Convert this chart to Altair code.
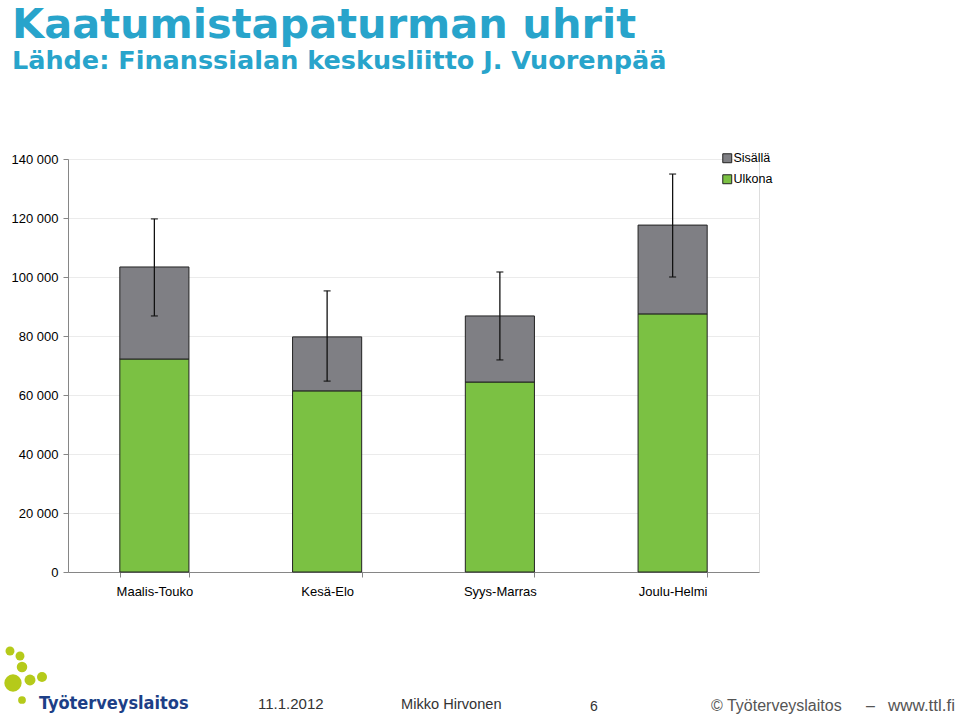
import altair as alt
import pandas as pd

categories = ["Maalis-Touko", "Kesä-Elo", "Syys-Marras", "Joulu-Helmi"]
ulkona = [72200, 61400, 64400, 87500]
sisalla = [31200, 18300, 22400, 30100]
err_low = [86800, 64700, 71900, 100000]
err_high = [119700, 95300, 101700, 134900]
series_names = ["Sisällä", "Ulkona"]
y_ticks = [0, 20000, 40000, 60000, 80000, 100000, 120000, 140000]

title_text = "Kaatumistapaturman uhrit"
subtitle_text = "Lähde: Finanssialan keskusliitto J. Vuorenpää"
footer_date = "11.1.2012"
footer_author = "Mikko Hirvonen"
footer_page = "6"
footer_copy1 = "©  Työterveyslaitos"
footer_dash = "–"
footer_www = "www.ttl.fi"
logo_text = "Työterveyslaitos"

rows = []
for c, u, s in zip(categories, ulkona, sisalla):
    rows.append({"cat": c, "series": "Ulkona", "value": u, "ord": 0})
    rows.append({"cat": c, "series": "Sisällä", "value": s, "ord": 1})
bars_df = pd.DataFrame(rows)
err_df = pd.DataFrame({"cat": categories, "low": err_low, "high": err_high})

FONT = "Liberation Sans"
GREEN = "#7BC143"
GREY = "#7F7F84"
TITLE_COL = "#28A4CB"

xenc = alt.X(
    "cat:N",
    sort=categories,
    scale=alt.Scale(paddingInner=0.6, paddingOuter=0.3),
    axis=alt.Axis(
        title=None, labelAngle=0, tickBand="extent", labelFont=FONT,
        labelFontSize=13, labelColor="#000", labelPadding=8, tickSize=5,
        tickColor="#868686", domainColor="#868686", grid=False,
    ),
)

bars = alt.Chart(bars_df).mark_bar(stroke="#222", strokeWidth=1).encode(
    x=xenc,
    y=alt.Y(
        "sum(value):Q",
        stack="zero",
        scale=alt.Scale(domain=[0, 140000], nice=False),
        axis=alt.Axis(
            title=None, values=y_ticks, labelFont=FONT, labelFontSize=13,
            labelColor="#000", tickSize=5, tickColor="#868686",
            domainColor="#868686", gridColor="#EBEBEB", labelPadding=5,
            labelExpr="datum.value >= 1000 ? format(floor(datum.value/1000), 'd') + ' 000' : '0'",
        ),
    ),
    color=alt.Color(
        "series:N",
        scale=alt.Scale(domain=series_names, range=[GREY, GREEN]),
        legend=alt.Legend(
            title=None, orient="none", legendX=653, legendY=-7,
            symbolType="square", symbolSize=80, symbolStrokeColor="#222",
            symbolStrokeWidth=1, labelFont=FONT, labelFontSize=12.5,
            labelColor="#000", rowPadding=7, labelOffset=0,
        ),
    ),
    order=alt.Order("ord:Q"),
)

rule = alt.Chart(err_df).mark_rule(color="#111", strokeWidth=1.3).encode(
    x=alt.X("cat:N", sort=categories), y="low:Q", y2="high:Q"
)
cap_lo = alt.Chart(err_df).mark_tick(color="#111", size=7, thickness=1.5).encode(
    x=alt.X("cat:N", sort=categories), y="low:Q"
)
cap_hi = alt.Chart(err_df).mark_tick(color="#111", size=7, thickness=1.5).encode(
    x=alt.X("cat:N", sort=categories), y="high:Q"
)

def txt(text, x, y, **kw):
    return alt.Chart(pd.DataFrame({"t": [text]})).mark_text(
        align="left", baseline="alphabetic", **kw
    ).encode(x=alt.value(x), y=alt.value(y), text="t:N")

title = txt(title_text, -56, -121, font="DejaVu Sans", fontWeight="bold",
            fontSize=41.5, color=TITLE_COL)
subtitle = txt(subtitle_text, -56, -90, font="DejaVu Sans", fontWeight="bold",
               fontSize=25.5, color=TITLE_COL)
f1 = txt(footer_date, 190, 550, font=FONT, fontSize=15, color="#333")
f2 = txt(footer_author, 333, 550, font=FONT, fontSize=14.6, color="#333")
f3 = txt(footer_page, 522, 552, font=FONT, fontSize=14, color="#333")
f4 = txt(footer_copy1, 643, 552, font=FONT, fontSize=16, color="#555")
f5 = txt(footer_dash, 798, 552, font=FONT, fontSize=16, color="#555")
f6 = txt(footer_www, 820, 552, font=FONT, fontSize=17, color="#555")
logo = txt(logo_text, -29, 550, font="DejaVu Sans Condensed", fontWeight="bold",
           fontSize=18, color="#1D3F87")

blob_x = [-58, -48, -46, -55, -38, -26, -46]
blob_y = [492, 497, 508, 524, 521, 518, 541]
blob_s = [80, 80, 110, 300, 120, 100, 60]
blobs = alt.layer(*[
    alt.Chart(pd.DataFrame({"k": [0]})).mark_circle(color="#B5CA1A", opacity=1).encode(
        x=alt.value(bx), y=alt.value(by), size=alt.value(sz)
    )
    for bx, by, sz in zip(blob_x, blob_y, blob_s)
])

chart = alt.layer(
    bars, rule, cap_lo, cap_hi, title, subtitle, f1, f2, f3, f4, f5, f6, logo, blobs
).properties(
    width=691,
    height=413,
    autosize=alt.AutoSizeParams(type="none"),
    padding={"left": 68, "top": 159, "right": 201, "bottom": 145},
).configure_view(stroke=None).configure(background="white")

chart.save("out.html", embed_options={"renderer": "svg", "actions": False})
